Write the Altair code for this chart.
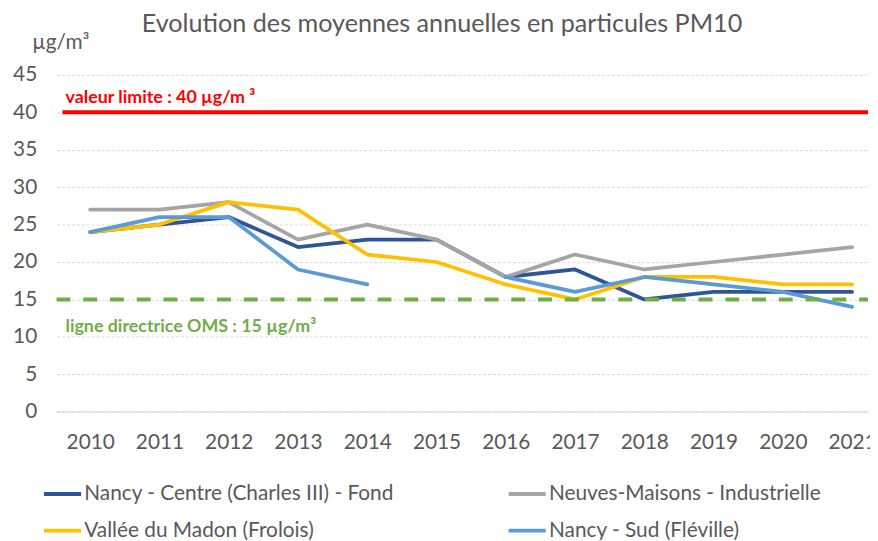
import altair as alt
import pandas as pd

years = [2010, 2011, 2012, 2013, 2014, 2015, 2016, 2017, 2018, 2019, 2020, 2021]
series_names = [
    "Nancy  - Centre (Charles III) - Fond",
    "Neuves-Maisons - Industrielle",
    "Vallée du Madon (Frolois)",
    "Nancy - Sud (Fléville)",
]
nancy_centre = [24, 25, 26, 22, 23, 23, 18, 19, 15, 16, 16, 16]
neuves_maisons = [27, 27, 28, 23, 25, 23, 18, 21, 19, 20, 21, 22]
vallee_madon = [24, 25, 28, 27, 21, 20, 17, 15, 18, 18, 17, 17]
nancy_sud = [24, 26, 26, 19, 17, None, 18, 16, 18, 17, 16, 14]
series_colors = ["#2F5597", "#A5A5A5", "#FFC000", "#5B9BD5"]

limit_value = 40
limit_label = "valeur limite : 40 µg/m ³"
oms_value = 15
oms_label = "ligne directrice OMS : 15  µg/m³"
title_text = "Evolution des moyennes annuelles en particules PM10"
unit_text = "µg/m³"
y_ticks = [0, 5, 10, 15, 20, 25, 30, 35, 40, 45]

FONT = "Lato"
GREY = "#595959"

rows = []
for name, vals in zip(series_names, [nancy_centre, neuves_maisons, vallee_madon, nancy_sud]):
    for y, v in zip(years, vals):
        rows.append({"Année": y, "Valeur": v, "Station": name})
df = pd.DataFrame(rows)

W, H = 819, 340
x_scale = alt.Scale(domain=[2009.514, 2021.23], nice=False, zero=False)
y_scale = alt.Scale(domain=[0, 45], nice=False)

y_axis = alt.Axis(values=y_ticks, title=unit_text, titleAngle=0,
                  titleAlign="left", titleBaseline="middle", titleX=-25, titleY=-33,
                  titleFontSize=21, titleFont=FONT, titleColor=GREY, titleFontWeight="normal",
                  grid=True, gridColor="#D9D9D9", gridDash=[3, 2], gridWidth=1,
                  ticks=False, domain=False, labelFontSize=21, labelColor=GREY,
                  labelFont=FONT, labelPadding=20, labelOverlap=False)

lines = alt.Chart(df).mark_line(strokeWidth=3.8, strokeJoin="round", strokeCap="round").encode(
    x=alt.X("Année:Q", scale=x_scale,
            axis=alt.Axis(values=years, format="d", title=None, grid=False, ticks=False,
                          domain=False, labelFontSize=21, labelColor=GREY, labelFont=FONT,
                          labelPadding=20, labelFlush=False, labelOverlap=False)),
    y=alt.Y("Valeur:Q", scale=y_scale, axis=y_axis),
    color=alt.Color("Station:N", scale=alt.Scale(domain=series_names, range=series_colors),
                    legend=alt.Legend(title=None, orient="none", legendX=-15, legendY=402,
                                      direction="horizontal",
                                      columns=2, columnPadding=102, rowPadding=6,
                                      gridAlign="all", symbolType="stroke", symbolSize=1400,
                                      symbolStrokeWidth=4, labelOffset=1, labelFontSize=21,
                                      labelFont=FONT, labelColor=GREY, labelLimit=500)),
)

zero_line = alt.Chart(pd.DataFrame({"v": [0]})).mark_rule(color="#D9D9D9", strokeWidth=1).encode(
    y=alt.Y("v:Q", scale=y_scale, axis=y_axis), x=alt.value(0), x2=alt.value(W))

limit_df = pd.DataFrame({"v": [limit_value], "t": [limit_label]})
oms_df = pd.DataFrame({"v": [oms_value], "t": [oms_label]})
title_df = pd.DataFrame({"t": [title_text]})

limit_rule = alt.Chart(limit_df).mark_rule(color="#FF0000", strokeWidth=4).encode(
    y=alt.Y("v:Q", scale=y_scale, axis=y_axis), x=alt.value(6), x2=alt.value(W))
oms_rule = alt.Chart(oms_df).mark_rule(color="#70AD47", strokeWidth=4, strokeDash=[14, 13]).encode(
    y=alt.Y("v:Q", scale=y_scale, axis=y_axis), x=alt.value(0), x2=alt.value(W))

limit_text = alt.Chart(limit_df).mark_text(
    align="left", baseline="middle", dy=-14, fontSize=18, fontWeight="bold",
    font=FONT, color="#FF0000").encode(y=alt.Y("v:Q", scale=y_scale, axis=y_axis), x=alt.value(9), text="t:N")
oms_text = alt.Chart(oms_df).mark_text(
    align="left", baseline="middle", dy=28, fontSize=18, fontWeight="bold",
    font=FONT, color="#70AD47").encode(y=alt.Y("v:Q", scale=y_scale, axis=y_axis), x=alt.value(9), text="t:N")

title_mark = alt.Chart(title_df).mark_text(
    align="center", baseline="middle", fontSize=25.4, font=FONT, color=GREY).encode(
    x=alt.value(389), y=alt.value(-51), text="t:N")

chart = alt.layer(lines, zero_line, limit_rule, oms_rule, limit_text, oms_text, title_mark).properties(
    width=W, height=H,
    autosize=alt.AutoSizeParams(type="none"),
    padding={"left": 49, "top": 65, "right": 2, "bottom": 127},
).configure_view(stroke=None)

chart.save("out.html", embed_options={"renderer": "svg", "actions": False})
